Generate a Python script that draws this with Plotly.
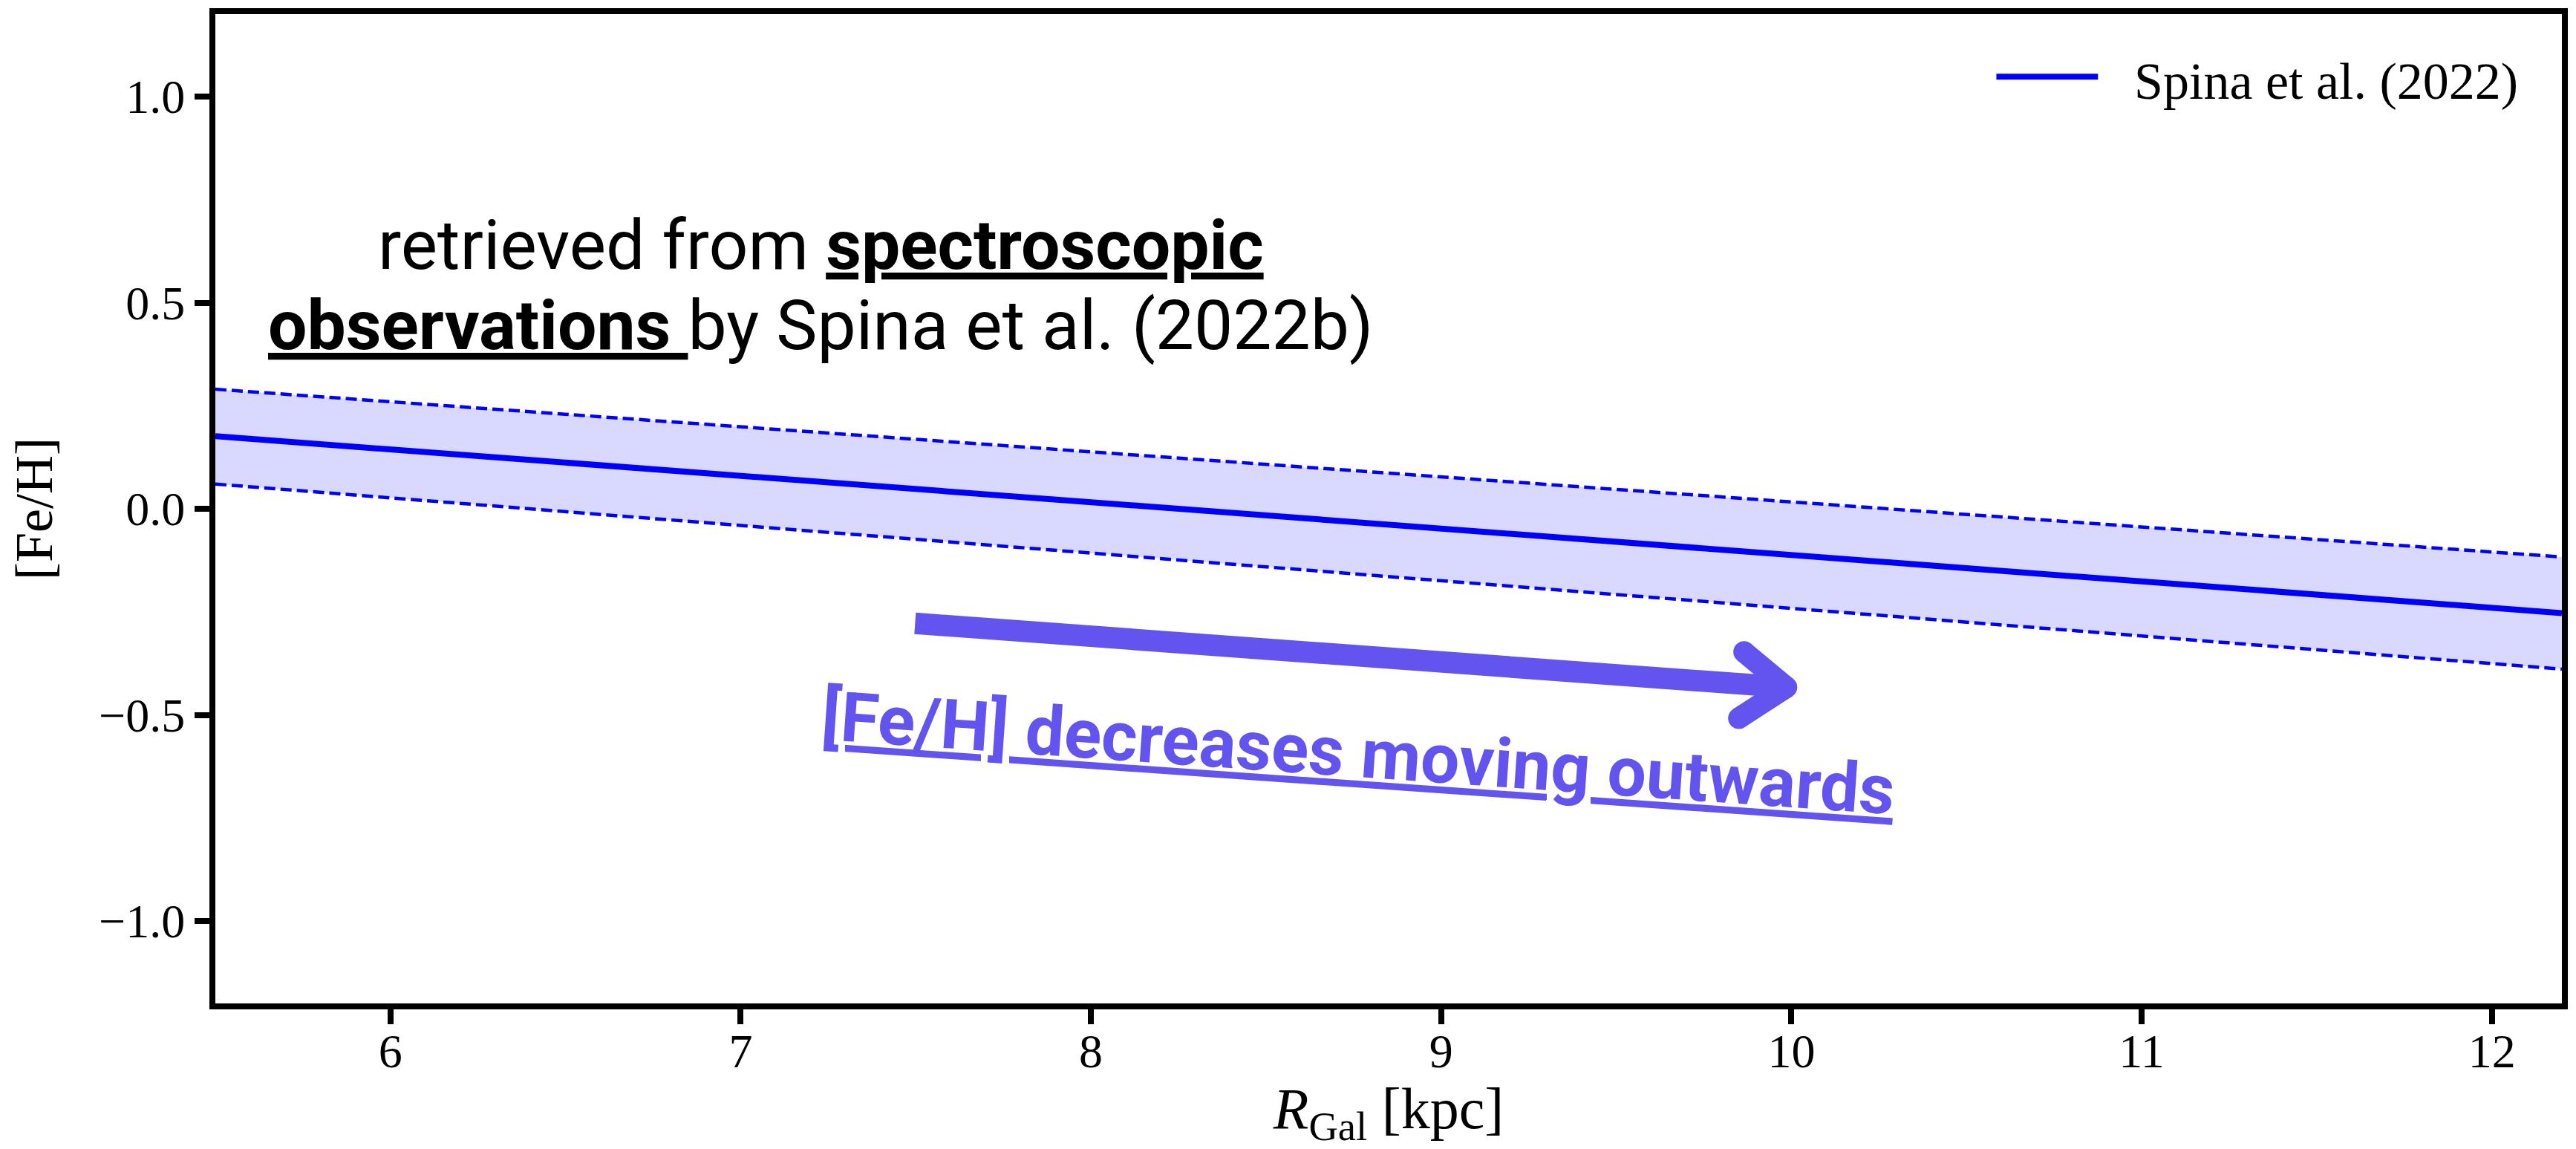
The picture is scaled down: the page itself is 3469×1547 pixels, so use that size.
import plotly.graph_objects as go

# Radial metallicity gradient (Spina et al. 2022): mean relation and its band
r_gal = [5.5, 12.2]
feh_mean = [0.176, -0.253]
feh_upper = [0.290, -0.117]
feh_lower = [0.060, -0.389]

x_ticks = [6, 7, 8, 9, 10, 11, 12]
y_ticks = [-1.0, -0.5, 0.0, 0.5, 1.0]

series_name = "Spina et al. (2022)"
BLUE = "#0000ff"
PURPLE = "#6354f0"
SERIF = "Liberation Serif, Times New Roman, serif"
SANS = "Roboto, Noto Sans, sans-serif"

# Arrow illustrating the outward decrease: shaft start, tip, and the two head barbs
arrow_start = (7.498, -0.278)
arrow_tip = (9.986, -0.433)
arrow_barb_up = (9.865, -0.3475)
arrow_barb_down = (9.850, -0.508)
ARROW_W = 29

fig = go.Figure()

fig.add_trace(go.Scatter(
    x=r_gal, y=feh_upper, mode="lines",
    line=dict(color=BLUE, width=4.5, dash="15px,7px"),
    showlegend=False, hoverinfo="skip",
))
fig.add_trace(go.Scatter(
    x=r_gal, y=feh_lower, mode="lines",
    line=dict(color=BLUE, width=4.5, dash="15px,7px"),
    fill="tonexty", fillcolor="rgba(0,0,255,0.15)",
    showlegend=False, hoverinfo="skip",
))
fig.add_trace(go.Scatter(
    x=r_gal, y=feh_mean, mode="lines",
    line=dict(color=BLUE, width=8),
    name=series_name, showlegend=False,
))

shapes = []
# arrow shaft and head
shapes.append(dict(type="line", xref="x", yref="y",
                   x0=arrow_start[0], y0=arrow_start[1], x1=arrow_tip[0], y1=arrow_tip[1],
                   line=dict(color=PURPLE, width=ARROW_W), layer="above"))
for barb in (arrow_barb_up, arrow_barb_down):
    shapes.append(dict(type="line", xref="x", yref="y",
                       x0=arrow_tip[0], y0=arrow_tip[1], x1=barb[0], y1=barb[1],
                       line=dict(color=PURPLE, width=ARROW_W), layer="above"))
# rounded joins / caps of the head
for pt in (arrow_tip, arrow_barb_up, arrow_barb_down):
    shapes.append(dict(type="circle", xref="x", yref="y",
                       xsizemode="pixel", ysizemode="pixel",
                       xanchor=pt[0], yanchor=pt[1],
                       x0=-ARROW_W / 2, x1=ARROW_W / 2, y0=-ARROW_W / 2, y1=ARROW_W / 2,
                       fillcolor=PURPLE, line=dict(width=0), layer="above"))
# legend sample line
shapes.append(dict(type="line", xref="paper", yref="paper",
                   x0=0.759, x1=0.8023, y0=0.9367, y1=0.9367,
                   line=dict(color=BLUE, width=8)))

annotations = [
    dict(xref="paper", yref="paper", x=0.8172, y=0.9322, xanchor="left", yanchor="middle",
         text=series_name, showarrow=False, font=dict(family=SERIF, size=70, color="black")),
    # two-line note, one annotation per line for tighter line spacing
    dict(xref="x", yref="y", x=7.229, y=0.639, xanchor="center", yanchor="middle",
         align="center", showarrow=False,
         text="retrieved from <b><u>spectroscopic</u></b>",
         font=dict(family=SANS, size=93, color="black")),
    dict(xref="x", yref="y", x=7.229, y=0.444, xanchor="center", yanchor="middle",
         align="center", showarrow=False,
         text="<b><u>observations </u></b>by Spina et al. (2022b)",
         font=dict(family=SANS, size=93, color="black")),
    dict(xref="x", yref="y", x=8.763, y=-0.594, xanchor="center", yanchor="middle",
         textangle=4.0, showarrow=False,
         text="<b><u>[Fe/H] decreases moving outwards</u></b>",
         font=dict(family=SANS, size=93, color=PURPLE)),
]

axis_common = dict(
    showline=True, linecolor="black", linewidth=8, mirror=True,
    ticks="outside", ticklen=20, tickwidth=8, tickcolor="black",
    showgrid=False, zeroline=False,
    tickfont=dict(family=SERIF, size=64, color="black"),
)

fig.update_layout(
    width=3469, height=1547,
    margin=dict(l=290, r=17, t=11, b=193),
    paper_bgcolor="white", plot_bgcolor="white",
    showlegend=False,
    shapes=shapes, annotations=annotations,
    xaxis=dict(range=[5.5, 12.2], tickvals=x_ticks, ticktext=[str(v) for v in x_ticks],
               ticklabelstandoff=-19,
               title=dict(text="<i>R</i><sub>Gal</sub> [kpc]", font=dict(family=SERIF, size=78, color="black"),
                          standoff=31),
               **axis_common),
    yaxis=dict(range=[-1.2, 1.2], tickvals=y_ticks, tickformat=".1f",
               title=dict(text="[Fe/H]", font=dict(family=SERIF, size=72, color="black"),
                          standoff=42),
               **axis_common),
)

fig.write_html("out.html")
